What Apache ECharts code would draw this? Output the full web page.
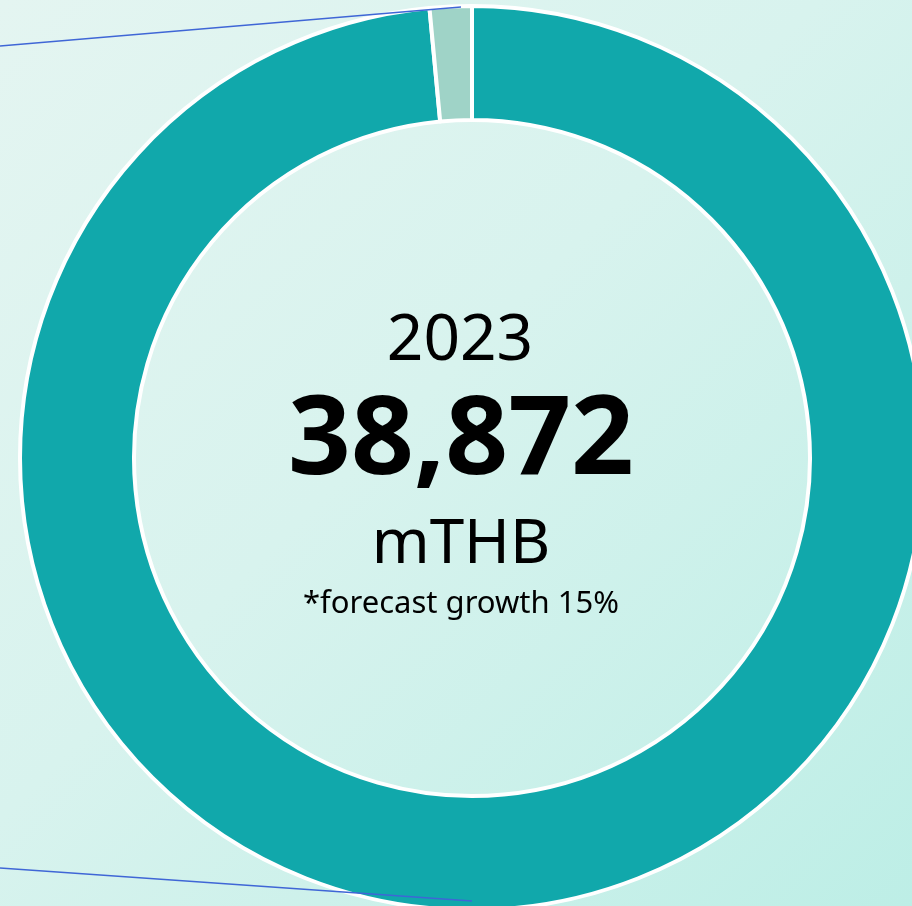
<!DOCTYPE html>
<html>
<head>
<meta charset="utf-8">
<script src="https://cdn.jsdelivr.net/npm/echarts@6/dist/echarts.min.js"></script>
<style>
  html, body {
    margin: 0;
    padding: 0;
  }
  #donut {
    width: 912px;
    height: 906px;
    background: linear-gradient(135deg, #e4f5f1 0%, #d8f3ee 45%, #bdeee6 100%);
  }
</style>
</head>
<body>
<div id="donut"></div>
<script>
  // slices, clockwise from 12 o'clock
  const sliceNames = ['Main', 'Other'];
  const sliceValues = [98.5, 1.5];
  const sliceColors = ['#11a8ab', '#9fd3c7'];

  const centerYear = '2023';
  const centerTotal = '38,872';
  const centerUnit = 'mTHB';
  const centerNote = '*forecast growth 15%';

  const chart = echarts.init(document.getElementById('donut'));

  const option = {
    animation: false,
    series: [
      {
        type: 'pie',
        center: [472, 458],
        radius: [338, 452],
        startAngle: 90,
        clockwise: true,
        silent: true,
        label: { show: false },
        labelLine: { show: false },
        itemStyle: {
          borderColor: '#ffffff',
          borderWidth: 4
        },
        data: sliceNames.map((name, i) => ({
          name: name,
          value: sliceValues[i],
          itemStyle: { color: sliceColors[i] }
        }))
      }
    ],
    graphic: [
      // thin leader lines coming in from the left
      {
        type: 'line',
        shape: { x1: 0, y1: 46, x2: 461, y2: 7 },
        style: { stroke: '#3f66d6', lineWidth: 1.5 },
        z: 10
      },
      {
        type: 'line',
        shape: { x1: 0, y1: 868, x2: 472, y2: 901 },
        style: { stroke: '#3f66d6', lineWidth: 1.5 },
        z: 10
      },
      {
        type: 'text',
        x: 460,
        y: 342,
        style: {
          text: centerYear,
          fill: '#000',
          font: '400 64px "Noto Sans"',
          textAlign: 'center',
          textVerticalAlign: 'middle'
        }
      },
      {
        type: 'text',
        x: 461,
        y: 443,
        style: {
          text: centerTotal,
          fill: '#000',
          font: '700 110px "Noto Sans"',
          textAlign: 'center',
          textVerticalAlign: 'middle'
        }
      },
      {
        type: 'text',
        x: 461,
        y: 545,
        style: {
          text: centerUnit,
          fill: '#000',
          font: '400 62px "Noto Sans"',
          textAlign: 'center',
          textVerticalAlign: 'middle'
        }
      },
      {
        type: 'text',
        x: 461,
        y: 604,
        style: {
          text: centerNote,
          fill: '#000',
          font: '400 31px "Noto Sans"',
          textAlign: 'center',
          textVerticalAlign: 'middle'
        }
      }
    ]
  };

  chart.setOption(option);
</script>
</body>
</html>
